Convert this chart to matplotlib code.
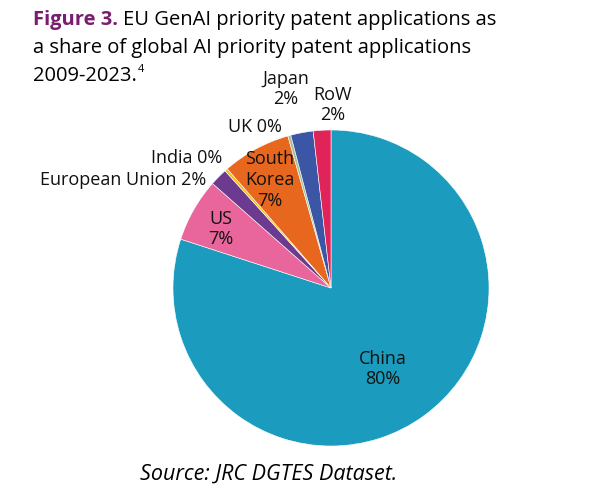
import matplotlib.pyplot as plt

# dados
paises = ['China', 'US', 'European Union', 'India', 'South Korea', 'UK', 'Japan', 'RoW']
partes = [80.0, 6.5, 1.8, 0.3, 7.0, 0.3, 2.3, 1.8]
rotulos = ['China\n80%', 'US\n7%', 'European Union 2%', 'India 0%',
           'South\nKorea\n7%', 'UK 0%', 'Japan\n2%', 'RoW\n2%']
cores = ['#1b9bbd', '#e8669b', '#6c3a8e', '#f4c20d',
         '#e8671f', '#a6bf8e', '#3a56a5', '#e0245a']

W, H = 599, 488
plt.rcParams['font.family'] = ['Open Sans', 'DejaVu Sans']
fig = plt.figure(figsize=(W / 100, H / 100), dpi=100)

cx, cy, r = 331, 288, 158
ax = fig.add_axes([(cx - r) / W, (H - cy - r) / H, 2 * r / W, 2 * r / H])
ax.pie(partes, colors=cores, startangle=90, counterclock=False,
       wedgeprops=dict(edgecolor='white', linewidth=0.4))
ax.set_xlim(-1, 1)
ax.set_ylim(-1, 1)
ax.set_aspect('equal')
ax.axis('off')

def px(x, y):
    return x / W, 1 - y / H

# posições dos rótulos (pixels)
pos = [(383, 369, 'center'), (221, 229, 'center'), (206, 180, 'right'),
       (222, 158, 'right'), (270, 180, 'center'), (255, 127, 'center'),
       (286, 89, 'center'), (333, 105, 'center')]
for txt, (x, y, ha) in zip(rotulos, pos):
    fig.text(*px(x, y), txt, ha=ha, va='center', fontsize=13,
             linespacing=1.2, color='#111111')

# título
rend = fig.canvas.get_renderer()
t = fig.text(*px(33, 25), 'Figure 3.', fontsize=14.5, fontweight='bold',
             color='#7b1d6f', va='baseline')
x1 = t.get_window_extent(rend).x1
fig.text(x1 / W + 5 / W, 1 - 25 / H, 'EU GenAI priority patent applications as',
         fontsize=14.5, va='baseline')
fig.text(*px(33, 53), 'a share of global AI priority patent applications',
         fontsize=14.5, va='baseline')
t3 = fig.text(*px(33, 81), '2009-2023.', fontsize=14.5, va='baseline')
x3 = t3.get_window_extent(rend).x1
fig.text(x3 / W + 1 / W, 1 - 72 / H, '4', fontsize=8, va='baseline')

fig.text(*px(140, 480), 'Source: JRC DGTES Dataset.', fontsize=15.5,
         style='italic', va='baseline')

fig.savefig('out.png', dpi=100)
